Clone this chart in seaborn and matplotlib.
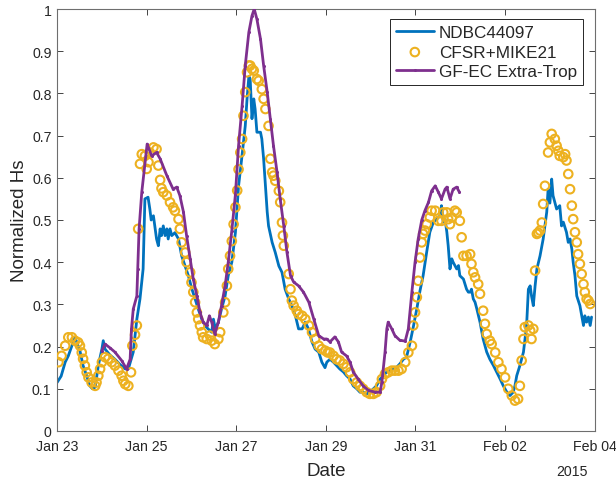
import numpy as np
import pandas as pd
import matplotlib
matplotlib.use("Agg")
import matplotlib.pyplot as plt
import matplotlib.dates as mdates
import seaborn as sns

# Time axis: days elapsed since 2015-01-23 00:00
START = pd.Timestamp("2015-01-23")

# NDBC 44097 buoy observations
ndbc_days = [0.00, 0.09, 0.18, 0.25, 0.33, 0.40, 0.44, 0.51, 0.58, 0.66, 0.73, 0.79, 0.85, 0.92,
             1.00, 1.03, 1.07, 1.18, 1.29, 1.40, 1.52, 1.59, 1.70, 1.78, 1.85, 1.92, 1.96, 2.03,
             2.07, 2.10, 2.15, 2.19, 2.22, 2.26, 2.30, 2.33, 2.37, 2.41, 2.45, 2.48, 2.52, 2.56,
             2.63, 2.71, 2.78, 2.86, 2.93, 3.01, 3.08, 3.15, 3.23, 3.30, 3.37, 3.45, 3.49, 3.53,
             3.60, 3.67, 3.75, 3.82, 3.90, 3.98, 4.05, 4.12, 4.20, 4.24, 4.28, 4.31, 4.35, 4.39,
             4.42, 4.46, 4.54, 4.57, 4.61, 4.65, 4.69, 4.72, 4.80, 4.87, 4.95, 5.02, 5.09, 5.17,
             5.24, 5.32, 5.39, 5.47, 5.54, 5.61, 5.69, 5.76, 5.84, 5.91, 5.98, 6.02, 6.09, 6.17,
             6.24, 6.31, 6.39, 6.46, 6.54, 6.61, 6.69, 6.76, 6.83, 6.91, 6.98, 7.06, 7.13, 7.21,
             7.28, 7.36, 7.43, 7.50, 7.58, 7.65, 7.73, 7.80, 7.88, 7.95, 8.03, 8.10, 8.17, 8.25,
             8.32, 8.40, 8.47, 8.55, 8.58, 8.62, 8.66, 8.70, 8.73, 8.77, 8.81, 8.84, 8.92, 8.96,
             8.99, 9.07, 9.14, 9.18, 9.22, 9.25, 9.29, 9.33, 9.37, 9.44, 9.51, 9.59, 9.66, 9.74,
             9.81, 9.89, 9.96, 10.04, 10.11, 10.18, 10.22, 10.26, 10.33, 10.41, 10.48, 10.52,
             10.56, 10.59, 10.63, 10.67, 10.71, 10.78, 10.85, 10.93, 10.96, 11.00, 11.04, 11.07,
             11.15, 11.22, 11.26, 11.30, 11.37, 11.41, 11.45, 11.49, 11.52, 11.56, 11.60, 11.67,
             11.71, 11.75, 11.78, 11.82, 11.86, 11.90, 11.93]
ndbc_hs = [0.115, 0.13, 0.163, 0.178, 0.202, 0.222, 0.21, 0.19, 0.155, 0.131, 0.107, 0.10, 0.104, 0.155,
           0.194, 0.214, 0.194, 0.18, 0.17, 0.158, 0.147, 0.147, 0.187, 0.265, 0.313, 0.384, 0.55, 0.554,
           0.526, 0.50, 0.51, 0.479, 0.455, 0.439, 0.479, 0.463, 0.486, 0.463, 0.479, 0.455, 0.479, 0.463,
           0.47, 0.455, 0.415, 0.39, 0.368, 0.336, 0.313, 0.289, 0.265, 0.25, 0.242, 0.234, 0.265, 0.242,
           0.258, 0.289, 0.32, 0.368, 0.40, 0.47, 0.58, 0.645, 0.723, 0.787, 0.84, 0.834, 0.74, 0.787,
           0.763, 0.708, 0.708, 0.692, 0.645, 0.58, 0.519, 0.486, 0.447, 0.423, 0.391, 0.376, 0.336, 0.313,
           0.297, 0.273, 0.242, 0.242, 0.258, 0.242, 0.211, 0.194, 0.187, 0.163, 0.15, 0.163, 0.17, 0.163,
           0.155, 0.147, 0.14, 0.131, 0.123, 0.107, 0.10, 0.092, 0.092, 0.088, 0.092, 0.10, 0.107, 0.123,
           0.131, 0.14, 0.143, 0.147, 0.151, 0.159, 0.17, 0.175, 0.21, 0.246, 0.29, 0.332, 0.368, 0.424,
           0.471, 0.495, 0.502, 0.51, 0.534, 0.495, 0.502, 0.471, 0.439, 0.384, 0.408, 0.40, 0.384, 0.392,
           0.368, 0.36, 0.336, 0.329, 0.329, 0.336, 0.313, 0.305, 0.289, 0.258, 0.218, 0.187, 0.17, 0.155,
           0.14, 0.123, 0.107, 0.092, 0.084, 0.092, 0.107, 0.131, 0.155, 0.187, 0.25, 0.336,
           0.344, 0.32, 0.297, 0.344, 0.384, 0.415, 0.455, 0.519, 0.573, 0.54, 0.597, 0.558,
           0.526, 0.534, 0.486, 0.495, 0.471, 0.447, 0.455, 0.431, 0.40, 0.368, 0.32, 0.297,
           0.273, 0.25, 0.273, 0.258, 0.27, 0.25, 0.27]

# CFSR-forced MIKE21 hindcast
cfsr_days = [0.03, 0.10, 0.18, 0.25, 0.33, 0.40, 0.47, 0.51, 0.55, 0.58, 0.62, 0.66, 0.70, 0.77,
             0.85, 0.88, 0.92, 0.96, 1.00, 1.07, 1.14, 1.22, 1.29, 1.37, 1.44, 1.48, 1.52, 1.59,
             1.65, 1.68, 1.74, 1.78, 1.81, 1.85, 1.89, 1.96, 2.00, 2.04, 2.07, 2.15, 2.22, 2.26,
             2.30, 2.33, 2.37, 2.45, 2.52, 2.59, 2.63, 2.71, 2.74, 2.78, 2.86, 2.89, 2.97, 3.00,
             3.04, 3.08, 3.12, 3.15, 3.19, 3.23, 3.26, 3.34, 3.41, 3.45, 3.52, 3.60, 3.64, 3.71,
             3.75, 3.79, 3.82, 3.86, 3.90, 3.94, 3.98, 4.02, 4.05, 4.09, 4.13, 4.16, 4.20, 4.24,
             4.28, 4.31, 4.35, 4.39, 4.46, 4.50, 4.57, 4.61, 4.65, 4.72, 4.76, 4.80, 4.83, 4.87,
             4.95, 4.98, 5.02, 5.04, 5.06, 5.17, 5.21, 5.24, 5.28, 5.35, 5.39, 5.47, 5.54, 5.62,
             5.69, 5.76, 5.84, 5.91, 5.99, 6.04, 6.09, 6.17, 6.24, 6.31, 6.39, 6.46, 6.54, 6.61,
             6.69, 6.76, 6.83, 6.91, 6.98, 7.06, 7.13, 7.21, 7.25, 7.32, 7.39, 7.47, 7.54, 7.62,
             7.69, 7.77, 7.84, 7.92, 7.95, 7.99, 8.03, 8.06, 8.10, 8.14, 8.17, 8.21, 8.25, 8.32,
             8.36, 8.44, 8.51, 8.58, 8.62, 8.70, 8.73, 8.77, 8.81, 8.88, 8.92, 8.99, 9.03, 9.07,
             9.14, 9.22, 9.25, 9.29, 9.33, 9.40, 9.44, 9.51, 9.55, 9.59, 9.66, 9.70, 9.78, 9.85,
             9.92, 10.00, 10.07, 10.15, 10.22, 10.29, 10.33, 10.37, 10.41, 10.44, 10.52, 10.56,
             10.59, 10.63, 10.67, 10.71, 10.74, 10.78, 10.82, 10.85, 10.89, 10.96, 11.00, 11.04,
             11.11, 11.15, 11.19, 11.22, 11.30, 11.34, 11.37, 11.41, 11.45, 11.49, 11.52, 11.56,
             11.60, 11.63, 11.67, 11.71, 11.75, 11.78, 11.82, 11.86, 11.90]
cfsr_hs = [0.163, 0.178, 0.202, 0.222, 0.222, 0.214, 0.21, 0.202, 0.186, 0.171, 0.155, 0.139, 0.127, 0.115,
           0.107, 0.115, 0.131, 0.147, 0.163, 0.175, 0.171, 0.163, 0.155, 0.143, 0.131, 0.119, 0.111, 0.107,
           0.139, 0.202, 0.228, 0.25, 0.479, 0.633, 0.656, 0.652, 0.621, 0.637, 0.66, 0.672, 0.668, 0.629,
           0.595, 0.575, 0.566, 0.558, 0.542, 0.53, 0.522, 0.502, 0.479, 0.447, 0.423, 0.40, 0.376, 0.352,
           0.329, 0.305, 0.281, 0.265, 0.25, 0.234, 0.222, 0.218, 0.226, 0.214, 0.206, 0.218, 0.234, 0.281,
           0.305, 0.344, 0.384, 0.415, 0.45, 0.49, 0.53, 0.57, 0.62, 0.66, 0.692, 0.747, 0.803, 0.85,
           0.866, 0.866, 0.858, 0.854, 0.834, 0.83, 0.81, 0.787, 0.763, 0.723, 0.645, 0.613, 0.605, 0.593,
           0.569, 0.542, 0.494, 0.463, 0.439, 0.372, 0.336, 0.309, 0.297, 0.285, 0.277, 0.273, 0.265, 0.25,
           0.234, 0.218, 0.202, 0.194, 0.19, 0.186, 0.186, 0.178, 0.17, 0.167, 0.159, 0.151, 0.139, 0.123,
           0.115, 0.107, 0.10, 0.092, 0.088, 0.088, 0.092, 0.107, 0.123, 0.135, 0.139, 0.143, 0.143, 0.143,
           0.147, 0.163, 0.186, 0.202, 0.25, 0.281, 0.317, 0.356, 0.411, 0.447, 0.467, 0.475, 0.49, 0.506,
           0.522, 0.522, 0.498, 0.498, 0.518, 0.518, 0.502, 0.49, 0.506, 0.522, 0.518, 0.498, 0.459, 0.415,
           0.415, 0.419, 0.396, 0.376, 0.364, 0.348, 0.325, 0.285, 0.254, 0.23, 0.214, 0.206, 0.186, 0.163,
           0.147, 0.127, 0.10, 0.084, 0.072, 0.076, 0.107, 0.167, 0.218, 0.246, 0.25, 0.238,
           0.218, 0.242, 0.38, 0.467, 0.47, 0.475, 0.494, 0.538, 0.581, 0.66, 0.684, 0.704,
           0.692, 0.676, 0.664, 0.652, 0.649, 0.656, 0.641, 0.609, 0.573, 0.534, 0.502, 0.471,
           0.447, 0.419, 0.396, 0.372, 0.348, 0.329, 0.313, 0.309, 0.301]

# GF-EC extra-tropical forecast
gfec_days = [1.00, 1.07, 1.18, 1.29, 1.44, 1.55, 1.63, 1.66, 1.70, 1.78, 1.80, 1.83, 1.89, 2.01,
             2.11, 2.22, 2.30, 2.45, 2.59, 2.67, 2.74, 2.82, 2.89, 2.97, 3.04, 3.12, 3.19, 3.26,
             3.34, 3.40, 3.45, 3.52, 3.60, 3.67, 3.75, 3.82, 3.90, 3.98, 4.05, 4.13, 4.20, 4.28,
             4.35, 4.40, 4.46, 4.54, 4.61, 4.69, 4.76, 4.83, 4.91, 4.98, 5.06, 5.13, 5.21, 5.28,
             5.39, 5.50, 5.62, 5.73, 5.84, 5.95, 6.02, 6.09, 6.20, 6.28, 6.35, 6.46, 6.54, 6.61,
             6.72, 6.83, 6.95, 7.10, 7.21, 7.25, 7.32, 7.36, 7.39, 7.47, 7.54, 7.65, 7.77, 7.84,
             7.92, 7.99, 8.06, 8.14, 8.21, 8.29, 8.36, 8.44, 8.51, 8.58, 8.66, 8.70, 8.77, 8.84,
             8.92, 8.98]
gfec_hs = [0.19, 0.206, 0.197, 0.187, 0.167, 0.147, 0.17, 0.242, 0.289, 0.32, 0.384, 0.479, 0.566, 0.68,
           0.652, 0.66, 0.645, 0.605, 0.573, 0.578, 0.558, 0.519, 0.463, 0.408, 0.36, 0.32, 0.281, 0.258,
           0.25, 0.273, 0.258, 0.23, 0.258, 0.297, 0.344, 0.40, 0.475, 0.56, 0.676, 0.771, 0.866, 0.945,
           0.984, 1.0, 0.976, 0.929, 0.866, 0.803, 0.739, 0.676, 0.613, 0.55, 0.486, 0.424, 0.368, 0.353,
           0.344, 0.329, 0.305, 0.265, 0.226, 0.218, 0.218, 0.211, 0.223, 0.211, 0.187, 0.178, 0.163, 0.14,
           0.123, 0.107, 0.096, 0.092, 0.092, 0.116, 0.187, 0.242, 0.258, 0.242, 0.226, 0.215, 0.213, 0.242,
           0.33, 0.40, 0.455, 0.50, 0.522, 0.542, 0.569, 0.581, 0.566, 0.55, 0.573, 0.578, 0.55, 0.573,
           0.578, 0.566]

x_ticks = ["2015-01-23", "2015-01-25", "2015-01-27", "2015-01-29",
           "2015-01-31", "2015-02-02", "2015-02-04"]
y_ticks = [0, 0.1, 0.2, 0.3, 0.4, 0.5, 0.6, 0.7, 0.8, 0.9, 1]
y_tick_labels = ["0", "0.1", "0.2", "0.3", "0.4", "0.5", "0.6", "0.7", "0.8", "0.9", "1"]


def frame(days, hs):
    return pd.DataFrame({"time": START + pd.to_timedelta(np.asarray(days), unit="D"),
                         "hs": hs})


ndbc = frame(ndbc_days, ndbc_hs)
cfsr = frame(cfsr_days, cfsr_hs)
gfec = frame(gfec_days, gfec_hs)

sns.set_style("ticks")
plt.rcParams["font.family"] = ["Liberation Sans", "DejaVu Sans"]

BLUE = "#0072BD"
GOLD = "#EDB120"
PURPLE = "#7E2F8E"
AXIS = "#262626"

fig = plt.figure(figsize=(6.16, 4.81), dpi=100)
ax = fig.add_axes([0.0927, 0.1019, 0.8727, 0.8773])

sns.lineplot(data=ndbc, x="time", y="hs", ax=ax, color=BLUE, lw=2.0,
             sort=False, estimator=None, label="NDBC44097")
sns.scatterplot(data=cfsr, x="time", y="hs", ax=ax, marker="o", s=38,
                facecolor="none", edgecolor=GOLD, linewidth=1.5,
                label="CFSR+MIKE21", zorder=3)
cfsr_pts = ax.collections[-1]
cfsr_pts.set_facecolor("none")
cfsr_pts.set_edgecolor(GOLD)
sns.lineplot(data=gfec, x="time", y="hs", ax=ax, color=PURPLE, lw=2.0,
             marker="o", markersize=2.2, markeredgewidth=0, sort=False,
             estimator=None, label="GF-EC Extra-Trop", zorder=4)

ax.set_xlim(pd.Timestamp(x_ticks[0]), pd.Timestamp(x_ticks[-1]))
ax.set_ylim(0, 1)
ax.set_xticks([pd.Timestamp(t) for t in x_ticks])
ax.xaxis.set_major_formatter(mdates.DateFormatter("%b %d"))
ax.set_yticks(y_ticks)
ax.set_yticklabels(y_tick_labels)

ax.tick_params(direction="in", length=4, width=0.6, colors=AXIS,
               labelsize=10.2, top=True, right=True)
ax.tick_params(axis="x", pad=6)
ax.tick_params(axis="y", pad=4)
for side in ax.spines.values():
    side.set_visible(True)
    side.set_color("#6e6e6e")
    side.set_linewidth(0.8)

ax.set_xlabel("Date", fontsize=13.5, color=AXIS, labelpad=6)
ax.set_ylabel("Normalized Hs", fontsize=13.5, color=AXIS, labelpad=3)
ax.text(0.958, -0.078, "2015", transform=ax.transAxes, ha="center", va="top",
        fontsize=10.2, color=AXIS)

leg = ax.legend(loc="upper right", bbox_to_anchor=(0.978, 0.976), fontsize=12.3,
                frameon=True, fancybox=False, edgecolor=AXIS, framealpha=1,
                handlelength=2.2, handletextpad=0.3, borderpad=0.35,
                labelspacing=0.26, borderaxespad=0)
leg.get_frame().set_linewidth(0.7)
for h in leg.legend_handles:
    if hasattr(h, "set_facecolor") and not hasattr(h, "get_xdata"):
        h.set_facecolor("none")
        h.set_edgecolor(GOLD)

fig.savefig("out.png", dpi=100)
